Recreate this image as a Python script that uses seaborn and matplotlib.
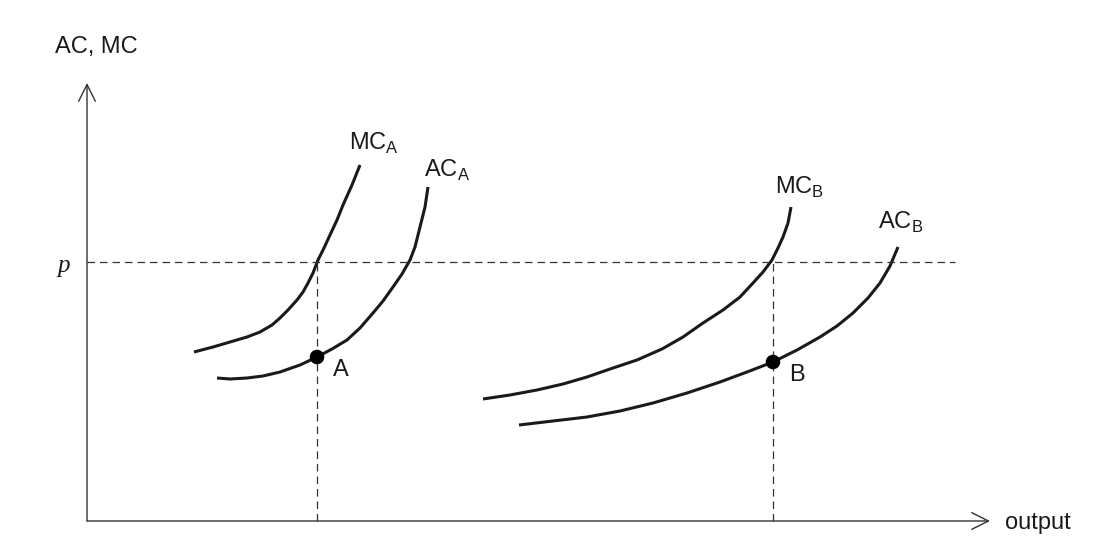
import seaborn as sns
import matplotlib.pyplot as plt
import pandas as pd

# curve points (x = output, y = cost, in picture units)
mc_a_x = [107, 126, 143, 160, 173, 185, 193, 201, 210, 216, 221, 226, 231,
          237, 243, 250, 256, 265, 273]
mc_a_y = [169, 174, 179, 184, 189, 196, 203, 211, 221, 229, 238, 248, 261,
          273, 286, 301, 316, 336, 356]
ac_a_x = [130, 143, 160, 176, 193, 213, 230, 245, 260, 273, 286, 296, 306,
          315, 323, 328, 333, 338, 341]
ac_a_y = [143, 142, 143, 145, 149, 156, 164, 172, 181, 193, 208, 220, 234,
          247, 261, 274, 294, 314, 334]
mc_b_x = [396, 423, 450, 476, 500, 526, 550, 575, 596, 616, 636, 653, 666,
          676, 685, 691, 696, 701, 704]
mc_b_y = [122, 126, 131, 137, 144, 153, 161, 172, 184, 198, 211, 224, 238,
          249, 261, 273, 284, 298, 314]
ac_b_x = [432, 466, 500, 533, 566, 600, 633, 660, 686, 710, 733, 750, 766,
          781, 793, 803, 811]
ac_b_y = [96, 100, 104, 110, 118, 128, 139, 149, 159, 171, 184, 195, 208,
          223, 238, 255, 274]

p = 259
points_x = [230, 686]
points_y = [164, 159]
point_names = ["A", "B"]

curves = pd.concat([
    pd.DataFrame({"x": mc_a_x, "y": mc_a_y, "curve": "MC_A"}),
    pd.DataFrame({"x": ac_a_x, "y": ac_a_y, "curve": "AC_A"}),
    pd.DataFrame({"x": mc_b_x, "y": mc_b_y, "curve": "MC_B"}),
    pd.DataFrame({"x": ac_b_x, "y": ac_b_y, "curve": "AC_B"}),
])

sns.set_style("white")
plt.rcParams["font.family"] = ["Liberation Sans", "DejaVu Sans"]
plt.rcParams["mathtext.fontset"] = "custom"
plt.rcParams["mathtext.rm"] = "Liberation Sans"
plt.rcParams["text.color"] = "#1a1a1a"

fig = plt.figure(figsize=(11.1, 5.44), dpi=100)
ax = fig.add_axes([0, 0, 1, 1])
ax.set_xlim(-87, 1023)
ax.set_ylim(-23, 521)
ax.axis("off")

for name, grp in curves.groupby("curve", sort=False):
    sns.lineplot(data=grp, x="x", y="y", ax=ax, color="#1a1a1a", lw=2.2,
                 sort=False, estimator=None, legend=False,
                 solid_joinstyle="round", solid_capstyle="butt")

# axes with open arrow heads
arrow = dict(arrowstyle="->,head_length=0.6,head_width=0.3", color="#333333",
             lw=1.0, mutation_scale=20, shrinkA=0, shrinkB=0)
ax.annotate("", xy=(0, 438), xytext=(0, 0), arrowprops=arrow)
ax.annotate("", xy=(903, 0), xytext=(0, 0), arrowprops=arrow)

# price line and drop lines
dash = dict(color="#333333", lw=0.9, ls=(0, (6, 4)))
ax.plot([0, 868], [p, p], **dash)
for px in points_x:
    ax.plot([px, px], [0, p], **dash)

sns.scatterplot(x=points_x, y=points_y, ax=ax, color="black", s=110,
                edgecolor="none", zorder=5)

fs = 17
for px, py, nm in zip(points_x, points_y, point_names):
    ax.text(px + 16, py - 13, nm, fontsize=fs, ha="left", va="center")

ax.text(-32, 474, "AC, MC", fontsize=fs, ha="left", va="center")
ax.text(-23, 255, "p", fontsize=fs + 1, ha="center", va="center",
        family="Liberation Serif", style="italic")
ax.text(918, -2, "output", fontsize=fs, ha="left", va="center")

ax.text(262, 378, r"MC$_\mathregular{A}$", fontsize=fs, ha="left", va="center")
ax.text(337, 351, r"AC$_\mathregular{A}$", fontsize=fs, ha="left", va="center")
ax.text(688, 334, r"MC$_\mathregular{B}$", fontsize=fs, ha="left", va="center")
ax.text(791, 299, r"AC$_\mathregular{B}$", fontsize=fs, ha="left", va="center")

fig.savefig("out.png", dpi=100)
